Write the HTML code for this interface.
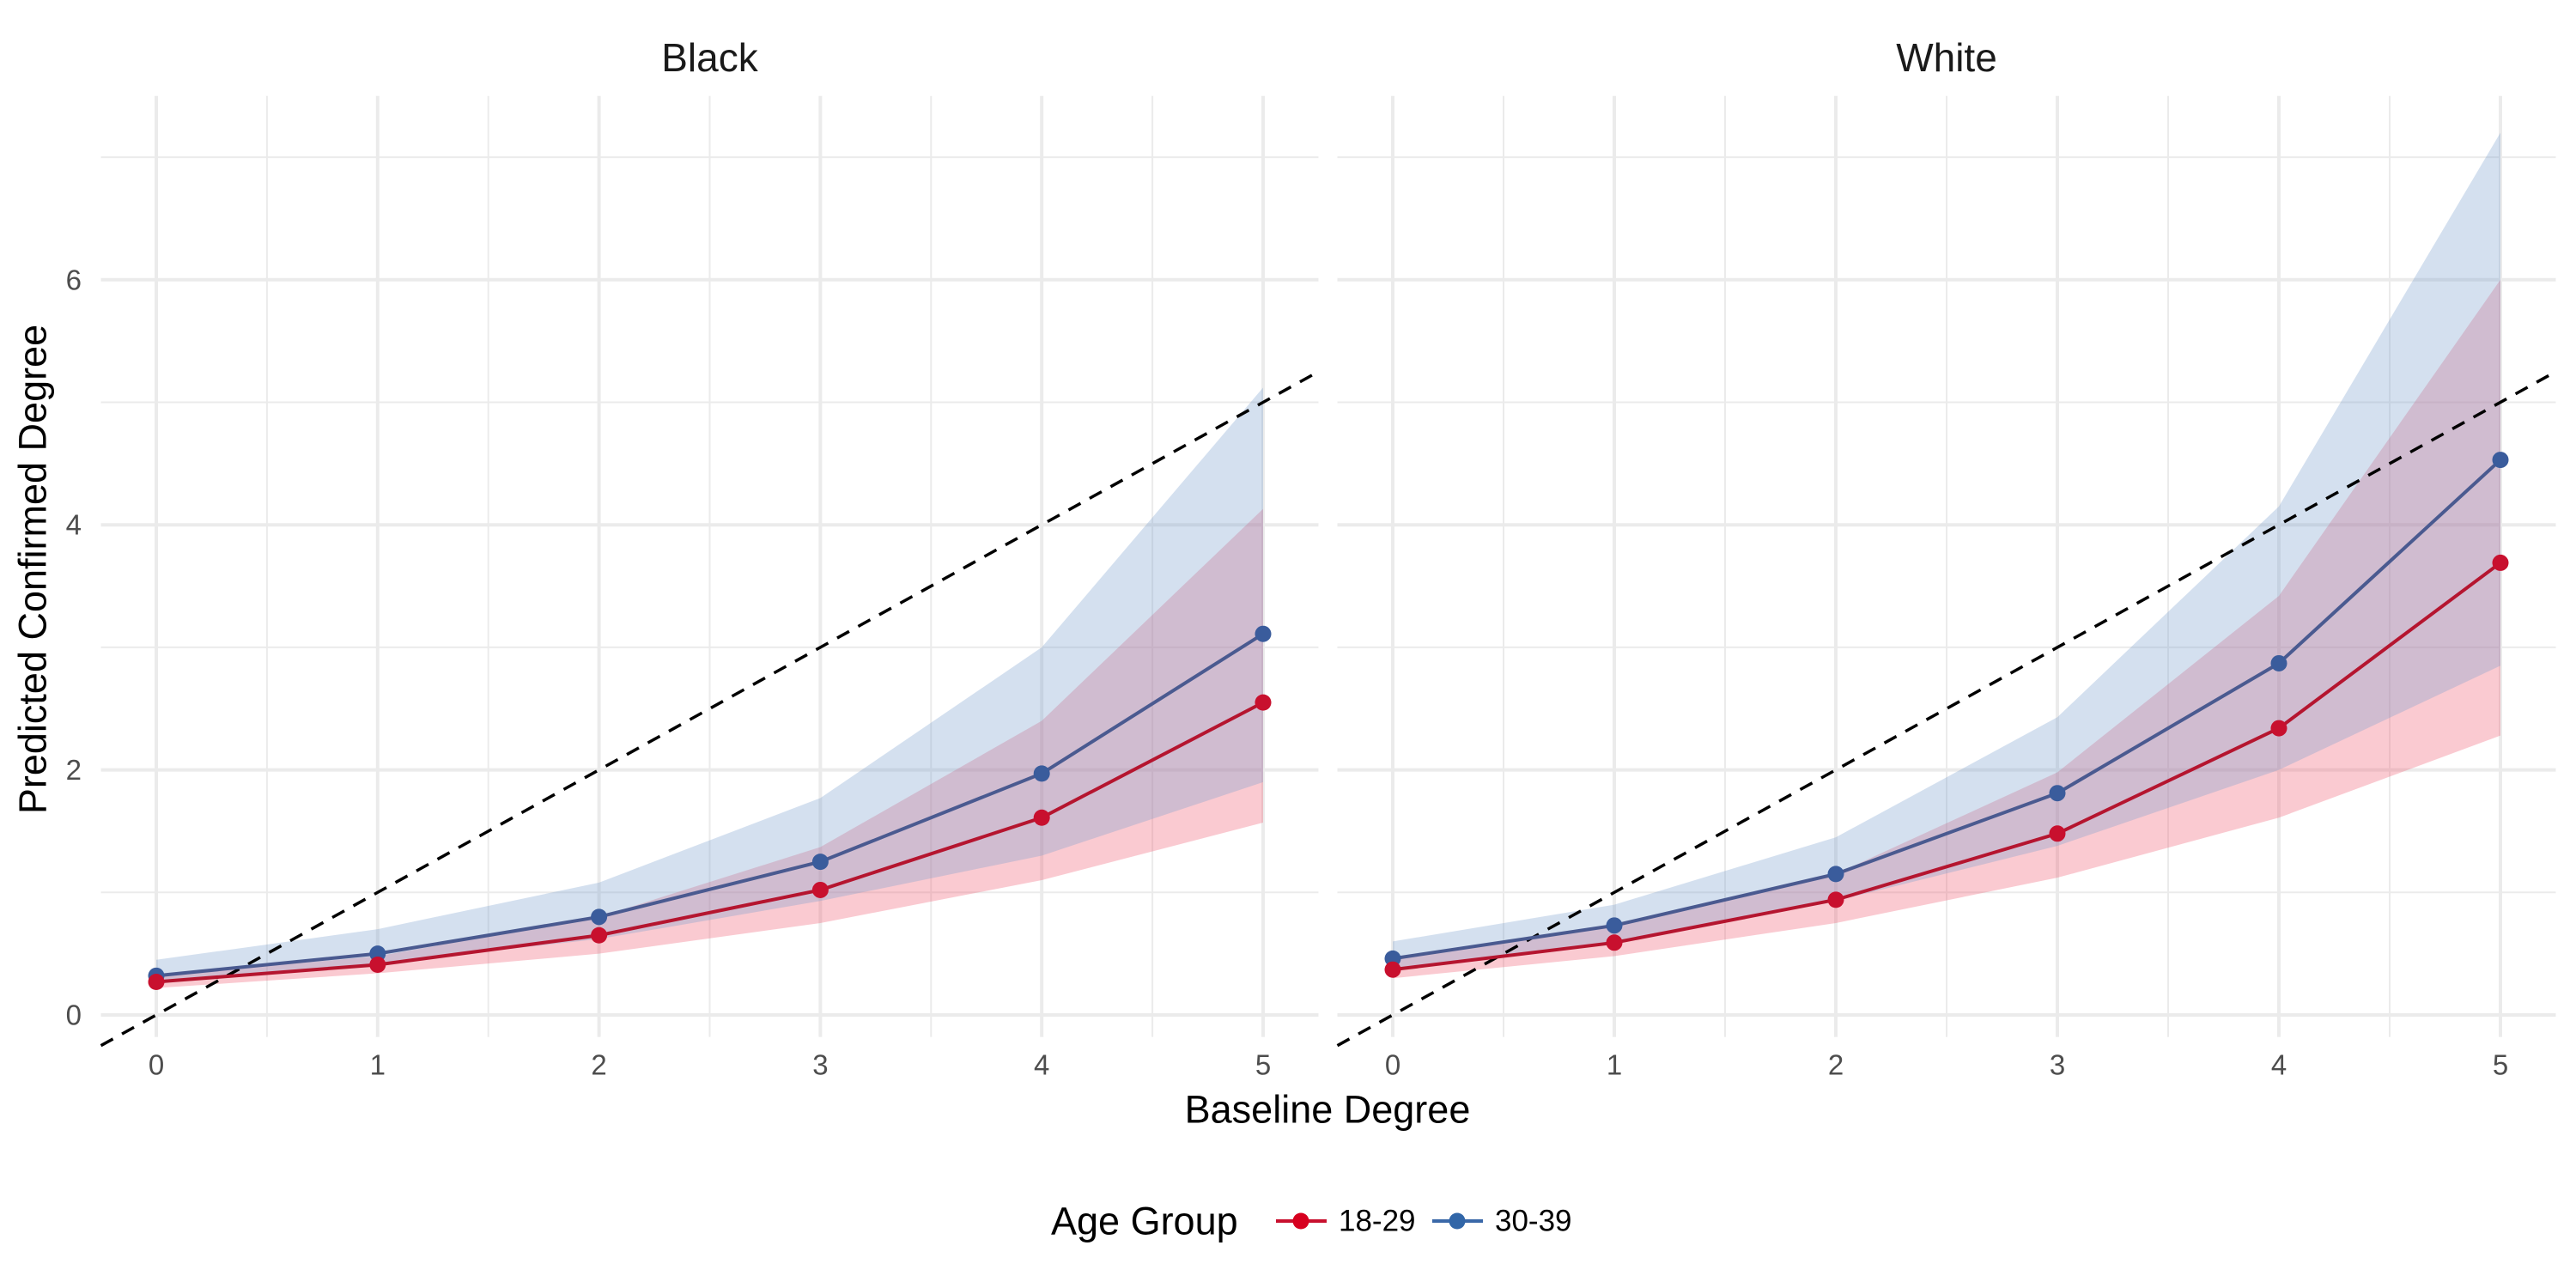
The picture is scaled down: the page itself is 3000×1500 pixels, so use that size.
<!DOCTYPE html>
<html><head><meta charset="utf-8"><style>
html,body{margin:0;padding:0;background:#fff;}
svg{display:block;font-family:"Liberation Sans",Arial,sans-serif;}
</style></head><body>
<svg id="chart" width="3000" height="1500" viewBox="0 0 3000 1500" xmlns="http://www.w3.org/2000/svg">
<rect width="3000" height="1500" fill="#fff"/>
<g id="panels"></g>
<text x="38" y="663" transform="rotate(-90 38 663)" text-anchor="middle" dominant-baseline="central" font-size="45" fill="#000">Predicted Confirmed Degree</text>
<text x="1546" y="1292" text-anchor="middle" dominant-baseline="central" font-size="45" fill="#000">Baseline Degree</text>
<g>
<text x="1224" y="1422" dominant-baseline="central" font-size="45" fill="#000">Age Group</text>
<g>
<line x1="1486" y1="1422" x2="1545" y2="1422" stroke="#C8102E" stroke-width="4"/>
<circle cx="1515" cy="1422" r="9.5" fill="#D7001F"/>
<text x="1559" y="1422" dominant-baseline="central" font-size="35" fill="#000">18-29</text>
</g>
<g>
<line x1="1668" y1="1422" x2="1727" y2="1422" stroke="#3A68A8" stroke-width="4"/>
<circle cx="1697" cy="1422" r="9.5" fill="#3166A8"/>
<text x="1741" y="1422" dominant-baseline="central" font-size="35" fill="#000">30-39</text>
</g>
</g>
</svg>
<script>
const categories = [0, 1, 2, 3, 4, 5];
const blackYoung = [0.27, 0.41, 0.65, 1.02, 1.61, 2.55];
const blackYoungLow = [0.22, 0.34, 0.50, 0.75, 1.10, 1.57];
const blackYoungHigh = [0.32, 0.48, 0.80, 1.37, 2.40, 4.13];
const blackOld = [0.32, 0.50, 0.80, 1.25, 1.97, 3.11];
const blackOldLow = [0.27, 0.42, 0.62, 0.93, 1.30, 1.90];
const blackOldHigh = [0.45, 0.70, 1.08, 1.77, 3.00, 5.12];
const whiteYoung = [0.37, 0.59, 0.94, 1.48, 2.34, 3.69];
const whiteYoungLow = [0.30, 0.48, 0.75, 1.12, 1.61, 2.28];
const whiteYoungHigh = [0.45, 0.72, 1.15, 1.98, 3.42, 6.00];
const whiteOld = [0.46, 0.73, 1.15, 1.81, 2.87, 4.53];
const whiteOldLow = [0.38, 0.60, 0.93, 1.38, 2.00, 2.85];
const whiteOldHigh = [0.60, 0.90, 1.45, 2.43, 4.15, 7.20];
const yTicks = [0, 2, 4, 6];
const yMinor = [1, 3, 5, 7];
const xTicks = [0, 1, 2, 3, 4, 5];
const panelTitles = ["Black", "White"];

const NS = "http://www.w3.org/2000/svg";
const root = document.getElementById("panels");
function mk(tag, attrs, parent) {
  const e = document.createElementNS(NS, tag);
  for (const k in attrs) e.setAttribute(k, attrs[k]);
  parent.appendChild(e);
  return e;
}
const xMin = -0.25, xMax = 5.25, yMin = -0.18, yMax = 7.5;
const y0px = 1182, yUnit = 142.7;
function yScale(v) { return y0px - v * yUnit; }

const panels = [
  {title: panelTitles[0], x0: 182, x5: 1471, young: blackYoung, yl: blackYoungLow, yh: blackYoungHigh, old: blackOld, ol: blackOldLow, oh: blackOldHigh, showY: true},
  {title: panelTitles[1], x0: 1622, x5: 2912, young: whiteYoung, yl: whiteYoungLow, yh: whiteYoungHigh, old: whiteOld, ol: whiteOldLow, oh: whiteOldHigh, showY: false}
];

panels.forEach((p, pi) => {
  const unit = (p.x5 - p.x0) / 5;
  const xs = v => p.x0 + v * unit;
  const g = mk("g", {}, root);
  
  
  const L = xs(xMin), R = xs(xMax), T = yScale(yMax), B = yScale(yMin);
  yMinor.forEach(v => { const l = mk("line", {x1: L, x2: R, y1: yScale(v), y2: yScale(v), stroke: "#EBEBEB", "stroke-width": 2}, g);
      });
  for (let v = 0.5; v < 5; v += 1) { const l = mk("line", {x1: xs(v), x2: xs(v), y1: T, y2: B, stroke: "#EBEBEB", "stroke-width": 2}, g);
      }
  yTicks.forEach(v => { const l = mk("line", {x1: L, x2: R, y1: yScale(v), y2: yScale(v), stroke: "#EBEBEB", "stroke-width": 4}, g);
      });
  xTicks.forEach(v => { const l = mk("line", {x1: xs(v), x2: xs(v), y1: T, y2: B, stroke: "#EBEBEB", "stroke-width": 4}, g);
      });
  function ribbon(lo, hi, fill, name) {
    let d = "";
    categories.forEach((c, i) => d += (i ? "L" : "M") + xs(c) + "," + yScale(hi[i]));
    for (let i = categories.length - 1; i >= 0; i--) d += "L" + xs(categories[i]) + "," + yScale(lo[i]);
    const r = mk("path", {d: d + "Z", fill: fill}, g);
     
  }
  ribbon(p.yl, p.yh, "rgba(240,95,115,0.33)", "ribbon-18-29");
  ribbon(p.ol, p.oh, "rgba(120,160,205,0.32)", "ribbon-30-39");
  const dl = mk("line", {x1: xs(xMin), y1: yScale(xMin), x2: xs(xMax), y2: yScale(xMax), stroke: "#000", "stroke-width": 3.5, "stroke-dasharray": "16 12"}, g);
   
  function series(vals, lineC, ptC, name) {
    const pts = categories.map((c, i) => xs(c) + "," + yScale(vals[i])).join(" ");
    const pl = mk("polyline", {points: pts, fill: "none", stroke: lineC, "stroke-width": 4}, g);
     
    categories.forEach((c, i) => {
      const ci = mk("circle", {cx: xs(c), cy: yScale(vals[i]), r: 9.5, fill: ptC}, g);
       
    });
  }
  series(p.old, "#4A5A90", "#3A5C9C", "30-39");
  series(p.young, "#B5152F", "#C8102E", "18-29");
  xTicks.forEach(v => { const t = mk("text", {x: xs(v), y: 1240, "text-anchor": "middle", "dominant-baseline": "central", "font-size": 33, fill: "#4D4D4D"}, g);
    t.textContent = v;   });
  if (p.showY) yTicks.forEach(v => { const t = mk("text", {x: 95, y: yScale(v), "text-anchor": "end", "dominant-baseline": "central", "font-size": 33, fill: "#4D4D4D"}, g);
    t.textContent = v;   });
  const tt = mk("text", {x: (L + R) / 2, y: 67, "text-anchor": "middle", "dominant-baseline": "central", "font-size": 46, fill: "#1A1A1A"}, g);
  tt.textContent = p.title;  
});
</script>
</body></html>
